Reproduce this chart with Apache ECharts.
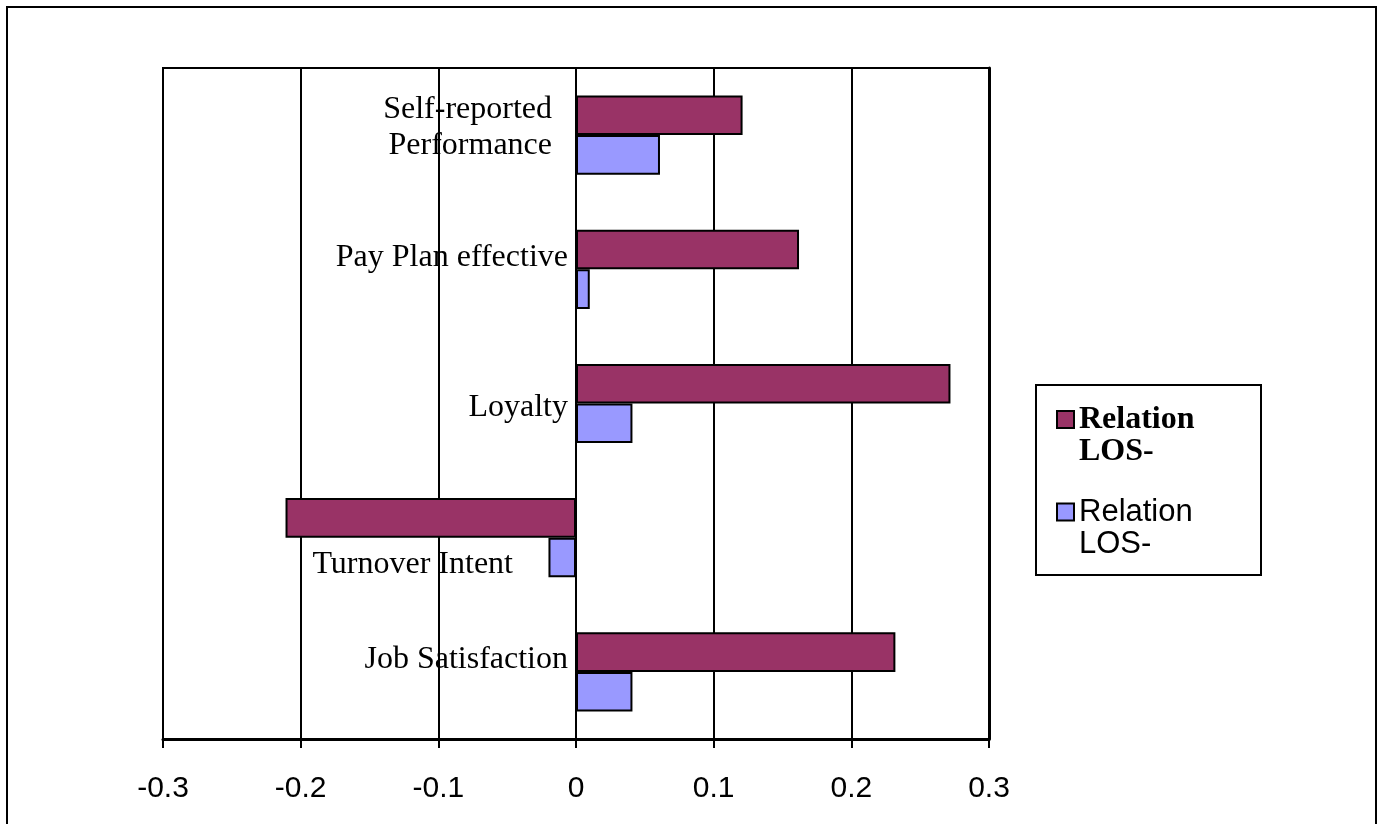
<!DOCTYPE html>
<html>
<head>
<meta charset="utf-8">
<script src="https://cdn.jsdelivr.net/npm/echarts@6/dist/echarts.min.js"></script>
<style>
html,body{margin:0;padding:0;background:#fff;}
#c{width:1377px;height:824px;}
</style>
</head>
<body>
<div id="c"></div>
<script>
// Data (top to bottom as shown)
const categories = ['Self-reported\nPerformance', 'Pay Plan effective', 'Loyalty', 'Turnover Intent', 'Job Satisfaction'];
const seriesNames = ['Relation LOS-', 'Relation LOS- '];
const maroonValues = [0.121, 0.162, 0.272, -0.211, 0.232];
const blueValues = [0.061, 0.010, 0.041, -0.020, 0.041];
const xTicks = [-0.3, -0.2, -0.1, 0, 0.1, 0.2, 0.3];

// label layout tweaks (styling only): vertical spacer (px, negative = below) and right padding
const labelLayout = [
  {space:-16, right:16},
  {space:-24, right:0},
  {space:8, right:0},
  {space:54, right:55},
  {space:-24, right:0}
];

const GRID = {left:163, right:388, top:68, bottom:85};
const chartWidth = 1377;

const chart = echarts.init(document.getElementById('c'), null, {renderer:'canvas'});
const serif = '"Liberation Serif","Times New Roman",serif';
const sans = '"Liberation Sans",Arial,sans-serif';

const catRich = {
  m0: {fontFamily:serif, fontSize:32, lineHeight:36, color:'#000'},
  m16: {fontFamily:serif, fontSize:32, lineHeight:36, color:'#000', padding:[0,16,0,0]},
  m55: {fontFamily:serif, fontSize:32, lineHeight:36, color:'#000', padding:[0,55,0,0]}
};
labelLayout.forEach(l => { const h = Math.abs(l.space); catRich['g' + h] = {fontSize:1, lineHeight:h}; });

function catFormatter(value, index) {
  const L = labelLayout[index];
  let lines = value.split('\n').map(s => '{m' + L.right + '|' + s + '}');
  const sp = '{g' + Math.abs(L.space) + '| }';
  if (L.space > 0) lines.unshift(sp); else if (L.space < 0) lines.push(sp);
  return lines.join('\n');
}

const legendRich = {
  b: {fontFamily:serif, fontWeight:'bold', fontSize:32, lineHeight:32, color:'#000'},
  r: {fontFamily:sans, fontWeight:'normal', fontSize:31, lineHeight:32, color:'#000'},
  s: {fontSize:1, lineHeight:32}
};

// place the category axis at x = 0 of the value axis
const xMin = -0.3, xMax = 0.3;
const plotW = chartWidth - GRID.left - GRID.right;
const zeroOffset = -plotW * (0 - xMin) / (xMax - xMin);

const option = {
  animation: false,
  backgroundColor: '#fff',
  grid: Object.assign({show:true, borderColor:'#000', borderWidth:2, containLabel:false, outerBoundsMode:'none'}, GRID),
  legend: {
    orient:'vertical', left:1051, top:382, itemWidth:17, itemHeight:17, itemGap:12,
    icon:'rect', itemStyle:{borderColor:'#000', borderWidth:2},
    textStyle:{rich:legendRich},
    formatter: n => {
      const st = seriesNames.indexOf(n) === 0 ? 'b' : 'r';
      const parts = n.trim().split(' ');
      return '{s| }\n' + parts.map(p => '{' + st + '|' + p + '}').join('\n');
    },
    data: seriesNames
  },
  xAxis: {
    type:'value', min:xMin, max:xMax, interval:0.1, position:'bottom',
    axisLine:{show:true, onZero:false, lineStyle:{color:'#000', width:3}},
    axisTick:{show:true, length:9, lineStyle:{color:'#000', width:2}},
    splitLine:{show:true, lineStyle:{color:'#000', width:2}},
    axisLabel:{fontFamily:sans, fontSize:30, color:'#000', margin:35,
      formatter: v => { const t = xTicks.find(x => Math.abs(x - v) < 1e-9); return t === undefined ? '' : String(t); }}
  },
  yAxis: [
    {
      type:'category', inverse:true, position:'left', offset:zeroOffset,
      data: categories,
      axisLine:{show:true, onZero:false, lineStyle:{color:'#000', width:2}},
      axisTick:{show:false},
      splitLine:{show:false},
      axisLabel:{margin:8, align:'right', formatter:catFormatter, rich:catRich}
    },
    {
      type:'category', inverse:true, position:'right',
      data: categories,
      axisLine:{show:true, onZero:false, lineStyle:{color:'#000', width:3}},
      axisTick:{show:false}, axisLabel:{show:false}, splitLine:{show:false}
    }
  ],
  series: [
    {name:seriesNames[0], type:'bar', data:maroonValues, barGap:'0%', barCategoryGap:'41%',
     itemStyle:{color:'#993366', borderColor:'#000', borderWidth:2}},
    {name:seriesNames[1], type:'bar', data:blueValues, barGap:'0%', barCategoryGap:'41%',
     itemStyle:{color:'#9999FF', borderColor:'#000', borderWidth:2}}
  ],
  graphic: [
    {type:'rect', shape:{x:7, y:7, width:1369, height:840}, style:{fill:null, stroke:'#000', lineWidth:2}, silent:true, z:-10},
    {type:'rect', shape:{x:1036, y:385, width:225, height:190}, style:{fill:'#fff', stroke:'#000', lineWidth:2}, silent:true, z:-5}
  ]
};
chart.setOption(option);
</script>
</body>
</html>
